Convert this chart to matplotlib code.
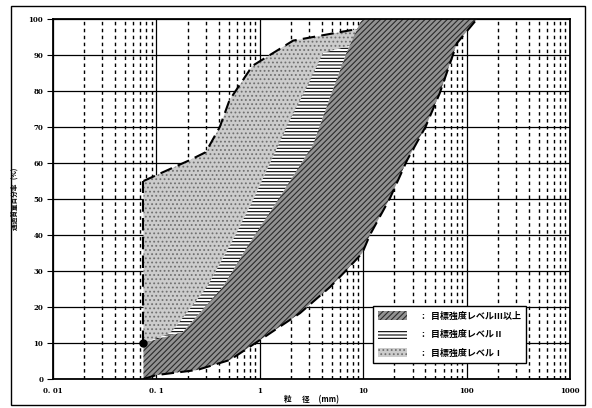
import numpy as np
import matplotlib
matplotlib.use('Agg')
import matplotlib.pyplot as plt
from matplotlib.patches import Patch, Rectangle
from matplotlib.ticker import FixedLocator, NullFormatter

plt.rcParams['font.family'] = ['Noto Sans CJK JP', 'DejaVu Sans']
plt.rcParams['hatch.linewidth'] = 0.8

# upper limit of level I (dashed line), grain size mm / passing %
lvl1_up_x = [0.075, 0.21, 0.30, 0.41, 0.51, 0.85, 2.1, 8.7, 10.0]
lvl1_up_y = [55.0, 60.8, 63.0, 70.0, 77.5, 87.0, 94.0, 97.2, 100.0]

# upper limit of level II
lvl2_up_x = [0.075, 0.13, 0.145, 0.31, 0.55, 0.86, 1.34, 2.0, 2.86, 4.1, 7.3]
lvl2_up_y = [10.0, 12.5, 13.6, 25.6, 38.6, 49.7, 61.7, 72.5, 81.1, 90.6, 92.5]

# upper limit of level III
lvl3_up_x = [0.075, 0.18, 0.44, 0.80, 1.57, 3.27, 4.8, 6.9, 9.3, 10.0]
lvl3_up_y = [10.0, 13.0, 25.6, 37.8, 50.6, 65.0, 78.3, 90.6, 98.9, 100.0]

# lower limit (common)
low_x = [0.075, 0.10, 0.247, 0.515, 1.0, 2.45, 4.8, 6.9, 9.8, 11.6, 18.2,
         26.6, 40.0, 55.0, 80.7, 126.0]
low_y = [0.0, 1.1, 2.5, 5.3, 10.8, 18.3, 25.6, 30.3, 35.0, 40.0, 50.3,
         60.8, 70.0, 79.4, 93.3, 100.0]

xticks = [0.01, 0.1, 1, 10, 100, 1000]
xtick_labels = ['0. 01', '0. 1', '1', '10', '100', '1000']
yticks = list(range(0, 101, 10))

legend_labels = [':   目標強度レベルⅢ以上', ':   目標強度レベルⅡ', ':   目標強度レベルⅠ']

fig = plt.figure(figsize=(5.92, 4.08), dpi=100)
ax = fig.add_axes([53 / 592, 1 - 379 / 408, 517 / 592, 360 / 408])
ax.set_xscale('log')
ax.set_xlim(0.01, 1000)
ax.set_ylim(0, 100)

# grid
minor = [m * 10.0 ** e for e in range(-2, 3) for m in range(2, 10)]
ax.xaxis.set_major_locator(FixedLocator(xticks))
ax.xaxis.set_minor_locator(FixedLocator(minor))
ax.xaxis.set_minor_formatter(NullFormatter())
ax.set_yticks(yticks)
ax.set_axisbelow(True)
ax.grid(True, which='major', color='black', lw=0.9, ls='-')
ax.grid(True, which='minor', axis='x', color='black', lw=1.0, ls=(0, (2.5, 2.5)))

sty1 = dict(facecolor='#cccccc', edgecolor='#707070', hatch='....', lw=0)
sty2 = dict(facecolor='white', edgecolor='black', hatch='-----', lw=0)
sty3 = dict(facecolor='#929292', edgecolor='#2a2a2a', hatch='//////', lw=0)

# level I
ax.fill(lvl1_up_x + lvl3_up_x[::-1], lvl1_up_y + lvl3_up_y[::-1], zorder=1, **sty1)
# level II
ax.fill(lvl2_up_x + lvl3_up_x[::-1], lvl2_up_y + lvl3_up_y[::-1], zorder=1.1, **sty2)
# level III
ax.fill(lvl3_up_x + low_x[::-1], lvl3_up_y + low_y[::-1], zorder=1.2, **sty3)

dash = dict(color='black', lw=1.5, ls=(0, (6, 3)), zorder=3)
ax.plot(lvl1_up_x[:-1], lvl1_up_y[:-1], **dash)
ax.plot([lvl1_up_x[0], lvl1_up_x[0]], [lvl2_up_y[0], lvl1_up_y[0]], **dash)
ax.plot(low_x, low_y, **dash)
ax.plot([lvl2_up_x[0]], [lvl2_up_y[0]], 'o', color='black', ms=5, zorder=4)

for s in ax.spines.values():
    s.set_linewidth(1.3)

ax.set_xticklabels(xtick_labels, family='DejaVu Serif', fontweight='bold', fontsize=5)
ax.set_yticklabels([str(v) for v in yticks], family='DejaVu Serif', fontweight='bold', fontsize=5)
ax.tick_params(axis='x', which='both', length=0, pad=6)
ax.tick_params(axis='y', length=4, width=0.8, pad=3)

ax.set_xlabel('粒      径     (mm)', fontsize=5.5, fontweight='bold', labelpad=0)
ax.set_ylabel('通過質量百分率   (%)', fontsize=4.8, fontweight='bold', labelpad=8)

handles = [Patch(**sty3), Patch(**sty2), Patch(**sty1)]
leg = ax.legend(handles, legend_labels, loc='lower left', bbox_to_anchor=(0.619, 0.044),
                borderaxespad=0, fancybox=False, framealpha=1, edgecolor='black',
                prop={'size': 6.5, 'weight': 'bold'}, handlelength=3.2, handleheight=1.1,
                handletextpad=1.6, labelspacing=1.0, borderpad=0.6)
leg.get_frame().set_linewidth(1.0)
leg.set_zorder(5)

# outer frame
fig.patches.append(Rectangle((11 / 592, 3 / 408), 574 / 592, 399 / 408, fill=False,
                             edgecolor='black', lw=1.0, transform=fig.transFigure))

fig.savefig('out.png', dpi=100)
